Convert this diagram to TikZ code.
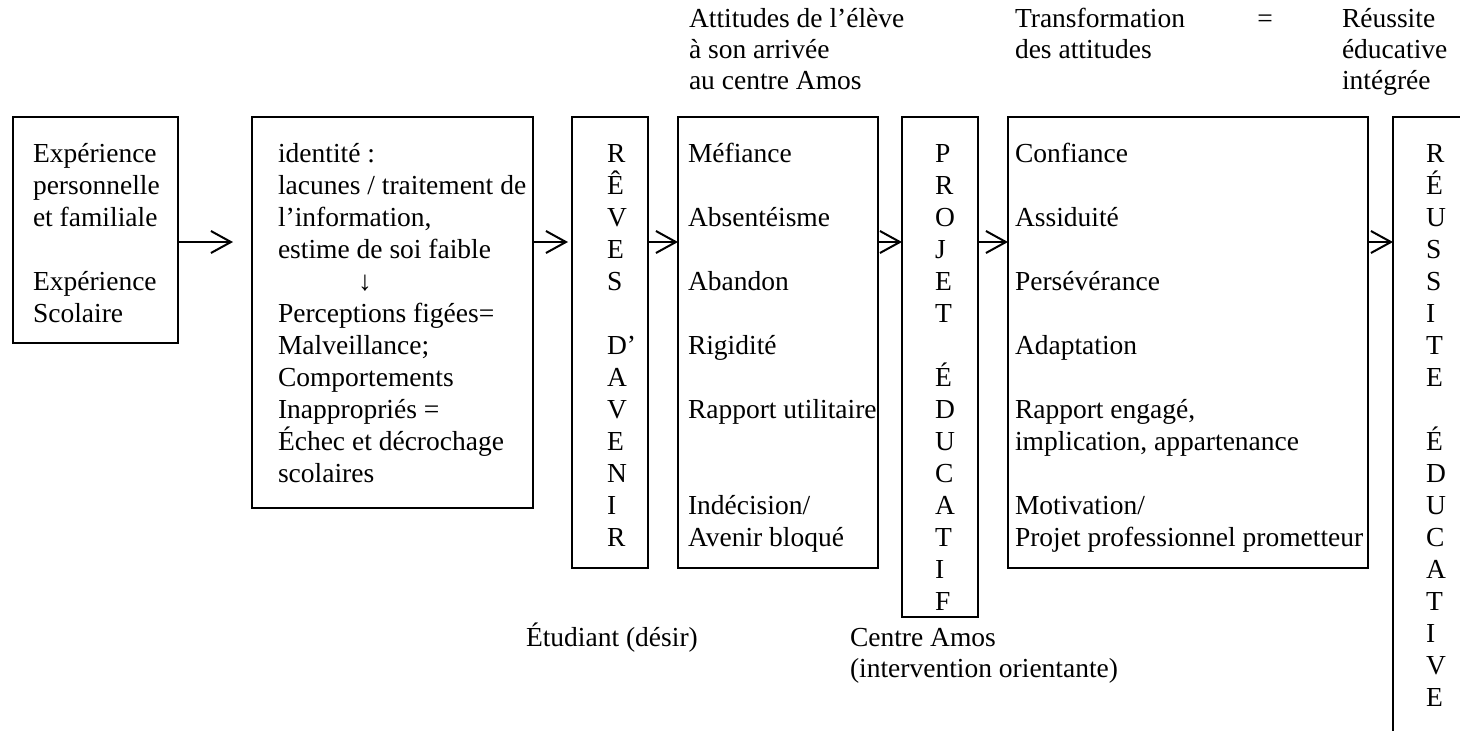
\documentclass[tikz,border=0pt]{standalone}
\usepackage{fontspec}
\setmainfont{Liberation Serif}
\usetikzlibrary{arrows.meta}
\begin{document}
\begin{tikzpicture}[x=0.5pt,y=-0.5pt,
  every node/.style={font=\fontsize{13.75}{16}\selectfont, inner sep=0pt, outer sep=0pt},
  box/.style={draw, line width=1pt, anchor=north west},
  txt/.style={anchor=base west},
  flow/.style={line width=1pt, -{Straight Barb[length=10pt,width=11pt,line width=1pt]}}]
\useasboundingbox[fill=white] (0,0) rectangle (1460,730);

% boxes
\node[box, minimum width=82.5pt, minimum height=113pt]   (B1) at (13,117) {};
\node[box, minimum width=140.5pt, minimum height=195.5pt] (B2) at (252,117) {};
\node[box, minimum width=38pt, minimum height=225.5pt]   (B3) at (572,117) {};
\node[box, minimum width=100pt, minimum height=225.5pt]  (B4) at (678,117) {};
\node[box, minimum width=38pt, minimum height=250pt]     (B5) at (902,117) {};
\node[box, minimum width=180pt, minimum height=225.5pt]  (B6) at (1008,117) {};
\node[box, minimum width=38pt, minimum height=350pt]     (B7) at (1393,117) {};

% arrow level
\coordinate (ay) at (0,242);
\draw[flow, shorten >=9.5pt] (B1.east |- ay) -- (B2.west |- ay);
\draw[flow, shorten >=2pt] (B2.east |- ay) -- (B3.west |- ay);
\draw[flow] (B3.east |- ay) -- (B4.west |- ay);
\draw[flow] (B4.east |- ay) -- (B5.west |- ay);
\draw[flow] (B5.east |- ay) -- (B6.west |- ay);
\draw[flow] (B6.east |- ay) -- (B7.west |- ay);

% box 1
\foreach \t/\r in {{Expérience}/0, {personnelle}/1, {et familiale}/2, {Expérience}/4, {Scolaire}/5}
  \node[txt] (a\r) at (33,162+32*\r) {\t};

% box 2
\foreach \t/\r in {{identité :}/0, {lacunes / traitement de}/1, {l’information,}/2, {estime de soi faible}/3,
  {Perceptions figées=}/5, {Malveillance;}/6, {Comportements}/7, {Inappropriés =}/8,
  {Échec et décrochage}/9, {scolaires}/10}
  \node[txt] (b\r) at (278,162+32*\r) {\t};
\node[anchor=base] (b4) at (365,162+32*4) {↓};

% box 3
\foreach \t/\r in {R/0, Ê/1, V/2, E/3, S/4, D’/6, A/7, V/8, E/9, N/10, I/11, R/12}
  \node[txt] (c\r) at (607,162+32*\r) {\t};

% box 4
\foreach \t/\r in {{Méfiance}/0, {Absentéisme}/2, {Abandon}/4, {Rigidité}/6, {Rapport utilitaire}/8,
  {Indécision/}/11, {Avenir bloqué}/12}
  \node[txt] (d\r) at (688,162+32*\r) {\t};

% box 5
\foreach \t/\r in {P/0, R/1, O/2, J/3, E/4, T/5, É/7, D/8, U/9, C/10, A/11, T/12, I/13, F/14}
  \node[txt] (e\r) at (935,162+32*\r) {\t};

% box 6
\foreach \t/\r in {{Confiance}/0, {Assiduité}/2, {Persévérance}/4, {Adaptation}/6, {Rapport engagé,}/8,
  {implication, appartenance}/9, {Motivation/}/11, {Projet professionnel prometteur}/12}
  \node[txt] (f\r) at (1015,162+32*\r) {\t};

% box 7
\foreach \t/\r in {R/0, É/1, U/2, S/3, S/4, I/5, T/6, E/7, É/9, D/10, U/11, C/12, A/13, T/14, I/15, V/16, E/17}
  \node[txt] (g\r) at (1426,162+32*\r) {\t};

% headers
\node[txt] (h1) at (689,27) {Attitudes de l’élève};
\node[txt] (h2) at (689,58) {à son arrivée};
\node[txt] (h3) at (689,89) {au centre Amos};
\node[txt] (h4) at (1015,27) {Transformation};
\node[txt] (h5) at (1015,58) {des attitudes};
\node[anchor=base] (h6) at (1265,27) {=};
\node[txt] (h7) at (1342,27) {Réussite};
\node[txt] (h8) at (1342,58) {éducative};
\node[txt] (h9) at (1342,89) {intégrée};

% bottom labels
\node[txt] (l1) at (526,646) {Étudiant (désir)};
\node[txt] (l2) at (850,646) {Centre Amos};
\node[txt] (l3) at (850,677) {(intervention orientante)};
\end{tikzpicture}
\end{document}
